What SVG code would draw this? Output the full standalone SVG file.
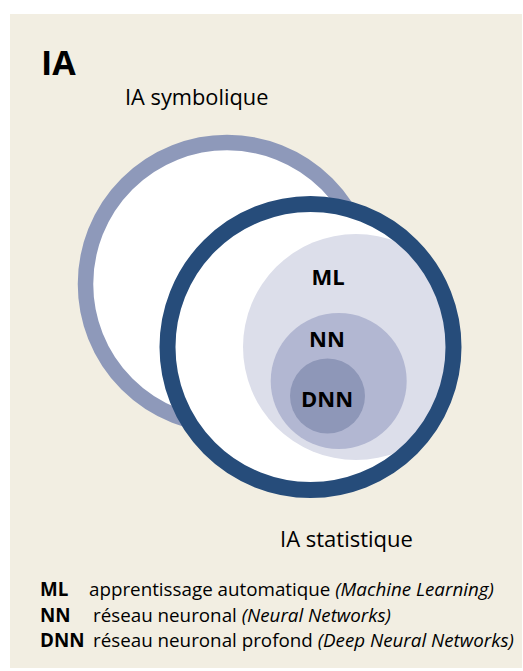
<svg xmlns="http://www.w3.org/2000/svg" width="523" height="671" viewBox="0 0 523 671">
<style>
text{font-family:"Open Sans","Noto Sans","Liberation Sans",sans-serif;fill:#000}
.b{font-weight:bold}
.i{font-style:italic}
.lbl{font-size:22px;font-weight:bold;text-anchor:middle}
.lg{font-size:18.8px}
</style>
<defs>
<clipPath id="inner"><circle cx="310.5" cy="347" r="143"/></clipPath>
</defs>
<rect x="0" y="0" width="523" height="671" fill="#ffffff"/>
<rect x="10" y="14" width="512" height="654" fill="#F2EEE2"/>
<text class="b" x="41" y="75" font-size="34">IA</text>
<g id="symbolique">
<circle cx="227" cy="284" r="141.5" fill="#ffffff" stroke="#8E99BA" stroke-width="15.5"/>
<text x="125" y="105" font-size="21.8">IA symbolique</text>
</g>
<g id="statistique">
<circle cx="310.5" cy="347" r="143" fill="#ffffff"/>
</g>
<g id="ML">
<circle cx="356" cy="347" r="113" fill="#DCDEEA" clip-path="url(#inner)"/>
<text class="lbl" x="328" y="285">ML</text>
</g>
<g id="NN">
<circle cx="338.7" cy="381" r="68" fill="#B2B7D2"/>
<text class="lbl" x="327" y="347">NN</text>
</g>
<g id="DNN">
<circle cx="327.5" cy="396" r="37.5" fill="#8E97B8"/>
<text class="lbl" x="327" y="407">DNN</text>
</g>
<g id="statistique-ring">
<circle cx="310.5" cy="347" r="143" fill="none" stroke="#264C7A" stroke-width="16"/>
<text x="280" y="547" font-size="22">IA statistique</text>
</g>
<g id="legend" class="lg">
<text class="b" x="40" y="596">ML</text>
<text x="89" y="596">apprentissage automatique <tspan class="i">(Machine Learning)</tspan></text>
<text class="b" x="40" y="622">NN</text>
<text x="93" y="622">réseau neuronal <tspan class="i">(Neural Networks)</tspan></text>
<text class="b" x="40" y="647">DNN</text>
<text x="93" y="647">réseau neuronal profond <tspan class="i">(Deep Neural Networks)</tspan></text>
</g>
<g id="connectors"/>
</svg>
